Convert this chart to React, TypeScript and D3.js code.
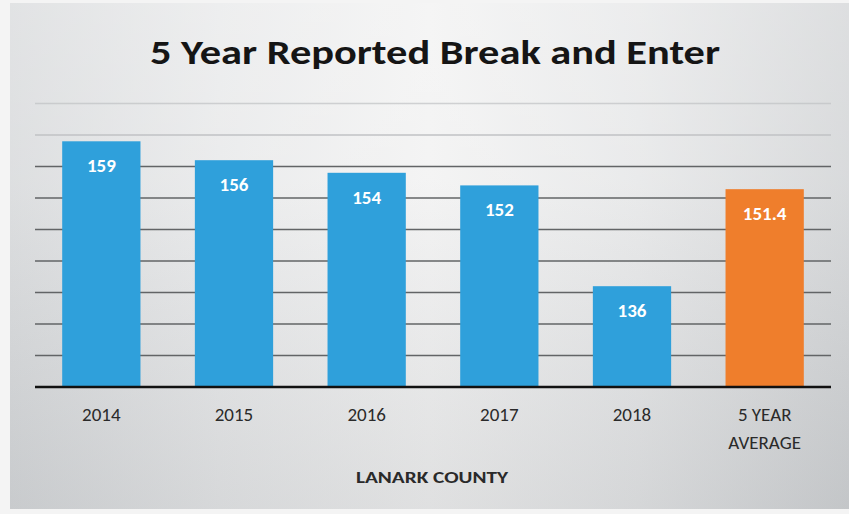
import React from "react";
import * as d3 from "d3";

const categories = ["2014", "2015", "2016", "2017", "2018", "5 YEAR AVERAGE"];
const values = [159, 156, 154, 152, 136, 151.4];
const valueLabels = ["159", "156", "154", "152", "136", "151.4"];
const gridTicks = [125, 130, 135, 140, 145, 150, 155, 160, 165];

const W = 849;
const H = 514;

export default function App() {
  const x = d3
    .scaleBand<string>()
    .domain(categories)
    .range([35, 831])
    .paddingInner(0.41)
    .paddingOuter(0.205);
  const y = d3.scaleLinear().domain([120, 165]).range([387, 103.5]);
  const font = "Carlito, Calibri, 'Open Sans', 'Noto Sans', sans-serif";

  return (
    <svg
      width={W}
      height={H}
      style={{ position: "absolute", left: 0, top: 0 }}
      fontFamily={font}
    >
      <defs>
        <linearGradient id="bgH" x1="0" x2="1" y1="0" y2="0">
          <stop offset="0" stopColor="#d5d7d9" />
          <stop offset="0.25" stopColor="#e6e7e8" />
          <stop offset="0.5" stopColor="#f1f1f1" />
          <stop offset="0.75" stopColor="#e4e5e6" />
          <stop offset="1" stopColor="#cfd1d3" />
        </linearGradient>
        <linearGradient id="bgV" x1="0" x2="0" y1="0" y2="1">
          <stop offset="0" stopColor="#ffffff" stopOpacity="0.3" />
          <stop offset="0.35" stopColor="#ffffff" stopOpacity="0.2" />
          <stop offset="1" stopColor="#8f9397" stopOpacity="0.18" />
        </linearGradient>
      </defs>
      <rect x={0} y={0} width={W} height={H} fill="#f4f4f4" />
      <rect x={10} y={3} width={839} height={506} fill="url(#bgH)" />
      <rect x={10} y={3} width={839} height={506} fill="url(#bgV)" />

      <text
        x={435}
        y={64}
        textAnchor="middle"
        fontSize={35}
        fontWeight="bold"
        fill="#151515"
        textLength={570}
        lengthAdjust="spacingAndGlyphs"
      >
        5 Year Reported Break and Enter
      </text>

      {gridTicks.map((t) => (
        <line
          key={t}
          x1={35}
          x2={831}
          y1={y(t)}
          y2={y(t)}
          stroke={t >= 160 ? "#c0c2c4" : "#626466"}
          strokeWidth={1.3}
          opacity={t === 165 ? 0.7 : 1}
        />
      ))}

      {categories.map((c, i) => (
        <rect
          key={c}
          x={x(c)}
          y={y(values[i])}
          width={x.bandwidth()}
          height={y(120) - y(values[i])}
          fill={i === 5 ? "#ef7e2c" : "#2fa0db"}
        />
      ))}

      {categories.map((c, i) => (
        <text
          key={c + "v"}
          x={(x(c) as number) + x.bandwidth() / 2}
          y={y(values[i]) + 31}
          textAnchor="middle"
          fontSize={19}
          fontWeight="bold"
          fill="#ffffff"
        >
          {valueLabels[i]}
        </text>
      ))}

      <line x1={35} x2={831} y1={y(120)} y2={y(120)} stroke="#111" strokeWidth={2.6} />

      {categories.map((c, i) => {
        const cx = (x(c) as number) + x.bandwidth() / 2;
        if (c === "5 YEAR AVERAGE") {
          return (
            <text key={c + "l"} x={cx} textAnchor="middle" fontSize={19} fill="#2a2a2a">
              <tspan x={cx} y={421}>5 YEAR</tspan>
              <tspan x={cx} y={449}>AVERAGE</tspan>
            </text>
          );
        }
        return (
          <text key={c + "l"} x={cx} y={421} textAnchor="middle" fontSize={19} fill="#2a2a2a">
            {c}
          </text>
        );
      })}

      <text
        x={432}
        y={483}
        textAnchor="middle"
        fontSize={16}
        fontWeight="bold"
        fill="#2a2a2a"
        textLength={152}
        lengthAdjust="spacingAndGlyphs"
      >
        LANARK COUNTY
      </text>
    </svg>
  );
}
